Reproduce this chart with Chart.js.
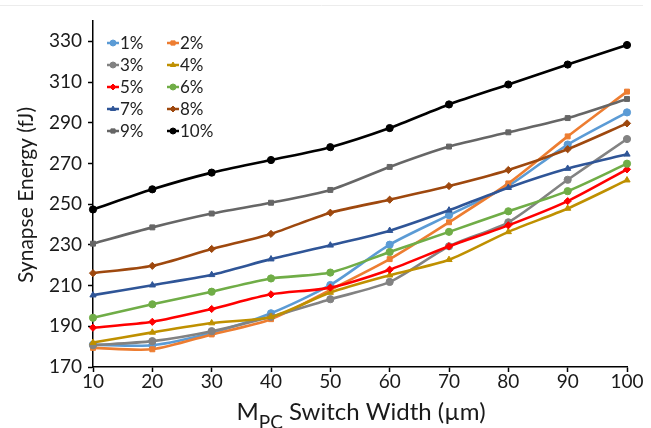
<!DOCTYPE html>
<html>
<head>
<meta charset="utf-8">
<script src="https://cdn.jsdelivr.net/npm/chart.js@4/dist/chart.umd.min.js"></script>
<style>
  html, body { margin: 0; padding: 0; background: #fff; }
  #wrap { position: relative; width: 651px; height: 428px; }
</style>
</head>
<body>
<div id="wrap"><canvas id="energyChart"></canvas></div>
<script>
/* ── Data: synapse energy (fJ) vs. M_PC switch width (µm) ───────────────── */
const widths = [10, 20, 30, 40, 50, 60, 70, 80, 90, 100];

const e1  = [181.0, 180.7, 186.8, 196.4, 210.3, 230.1, 244.6, 259.0, 279.3, 295.1];
const e2  = [179.4, 178.7, 186.0, 193.5, 207.9, 223.0, 241.1, 260.2, 283.3, 305.3];
const e3  = [180.7, 182.7, 187.6, 194.7, 203.3, 211.8, 229.3, 241.1, 262.0, 282.0];
const e4  = [182.0, 187.0, 191.6, 194.6, 206.6, 215.1, 222.7, 236.4, 247.9, 261.8];
const e5  = [189.3, 192.2, 198.5, 205.7, 209.0, 217.8, 229.3, 239.6, 251.5, 267.1];
const e6  = [194.2, 200.8, 207.0, 213.5, 216.4, 226.5, 236.4, 246.5, 256.4, 269.9];
const e7  = [205.3, 210.2, 215.3, 223.0, 229.8, 237.0, 247.0, 258.1, 267.5, 274.5];
const e8  = [216.1, 219.7, 228.0, 235.4, 245.8, 252.2, 258.9, 266.8, 277.0, 289.7];
const e9  = [230.6, 238.6, 245.4, 250.7, 257.0, 268.3, 278.3, 285.3, 292.3, 301.7];
const e10 = [247.4, 257.3, 265.5, 271.7, 278.0, 287.4, 299.0, 308.8, 318.6, 328.2];

const seriesNames = ["1%", "2%", "3%", "4%", "5%", "6%", "7%", "8%", "9%", "10%"];
const seriesData  = [e1, e2, e3, e4, e5, e6, e7, e8, e9, e10];

const yMin = 170, yMax = 340, yStep = 10;

/* ── Styling ───────────────────────────────────────────────────────────── */
const colors = ["#5B9BD5", "#ED7D31", "#828282", "#BF9000", "#FF0000",
                "#70AD47", "#2F5597", "#9E480E", "#666666", "#000000"];
const markers = ["circle", "rect", "circle", "triangle", "rectRot",
                 "circle", "triangle", "rectRot", "rect", "circle"];
const FONT = "Lato, 'Open Sans', sans-serif";

const datasets = seriesNames.map((name, i) => ({
  label: name,
  data: seriesData[i],
  borderColor: colors[i],
  backgroundColor: colors[i],
  borderWidth: 2.6,
  tension: 0.25,
  pointStyle: markers[i],
  pointRadius: markers[i] === "rect" ? 3.5 : 3.6,
  pointBorderWidth: 1,
  order: seriesNames.length - 1 - i,   // last series on top
}));

/* ── Legend drawn inside the plot, two columns ─────────────────────────── */
const insideLegend = {
  id: "insideLegend",
  afterDraw(chart) {
    const ctx = chart.ctx;
    const colX = [107, 167];
    const rowY = [43, 65, 87, 109, 131];
    ctx.save();
    ctx.font = "17px " + FONT;
    ctx.textBaseline = "middle";
    ctx.textAlign = "left";
    chart.data.datasets.forEach((ds, i) => {
      const x = colX[i % 2];
      const y = rowY[Math.floor(i / 2)];
      ctx.strokeStyle = ds.borderColor;
      ctx.lineWidth = 2.5;
      ctx.beginPath();
      ctx.moveTo(x, y);
      ctx.lineTo(x + 12, y);
      ctx.stroke();
      ctx.fillStyle = ds.backgroundColor;
      ctx.strokeStyle = ds.borderColor;
      ctx.lineWidth = 1;
      Chart.helpers.drawPoint(ctx, { pointStyle: ds.pointStyle, radius: 3, borderWidth: 1 }, x + 6, y);
      ctx.fillStyle = "#222";
      ctx.fillText(ds.label, x + 13, y + 1);
    });
    ctx.restore();
  }
};

/* ── Axis titles (x title needs a subscript) + faint frame line ─────────── */
const axisTitles = {
  id: "axisTitles",
  afterDraw(chart) {
    const ctx = chart.ctx;
    ctx.save();
    ctx.fillStyle = "#1a1a1a";
    ctx.textBaseline = "alphabetic";

    // y title
    ctx.save();
    ctx.translate(33, 195);
    ctx.rotate(-Math.PI / 2);
    ctx.font = "21px " + FONT;
    ctx.textAlign = "center";
    ctx.fillText("Synapse Energy (fJ)", 0, 0);
    ctx.restore();

    // x title: M + subscript PC + rest
    const big = "24px " + FONT, small = "19px " + FONT;
    const partA = "M", partB = "PC", partC = " Switch Width (\u00b5m)";
    ctx.font = big;
    const wA = ctx.measureText(partA).width;
    const wC = ctx.measureText(partC).width;
    ctx.font = small;
    const wB = ctx.measureText(partB).width;
    let x = 361 - (wA + wB + wC) / 2;
    const base = 420;
    ctx.textAlign = "left";
    ctx.font = big;   ctx.fillText(partA, x, base); x += wA;
    ctx.font = small; ctx.fillText(partB, x, base + 9); x += wB;
    ctx.font = big;   ctx.fillText(partC, x, base);

    // faint top frame line
    ctx.strokeStyle = "#ececec";
    ctx.lineWidth = 1;
    ctx.beginPath();
    ctx.moveTo(0, 5.5);
    ctx.lineTo(643, 5.5);
    ctx.stroke();
    ctx.restore();
  }
};

new Chart(document.getElementById("energyChart"), {
  type: "line",
  data: { labels: widths, datasets },
  options: {
    responsive: true,
    maintainAspectRatio: false,
    animation: false,
    layout: { padding: { top: 21, right: 24, left: 0, bottom: 0 } },
    plugins: {
      legend: { display: false },
      tooltip: { enabled: false },
    },
    scales: {
      x: {
        type: "category",
        offset: false,
        afterFit: (s) => { s.height = 61; },
        border: { color: "#000", width: 1.5 },
        grid: { drawOnChartArea: false, drawTicks: true, tickLength: 5, tickColor: "#000", tickWidth: 1.5 },
        ticks: { color: "#1a1a1a", padding: -2, maxRotation: 0, font: { family: FONT, size: 19 } },
      },
      y: {
        min: yMin,
        max: yMax,
        afterFit: (s) => { s.width = 93; },
        border: { color: "#000", width: 1.5 },
        grid: { drawOnChartArea: false, drawTicks: true, tickLength: 5, tickColor: "#000", tickWidth: 1.5 },
        ticks: {
          stepSize: yStep,
          color: "#1a1a1a",
          padding: 6,
          font: { family: FONT, size: 19 },
          callback: (v) => ((v - yMin) % 20 === 0 && v < yMax ? v : ""),
        },
      },
    },
  },
  plugins: [insideLegend, axisTitles],
});
</script>
</body>
</html>
